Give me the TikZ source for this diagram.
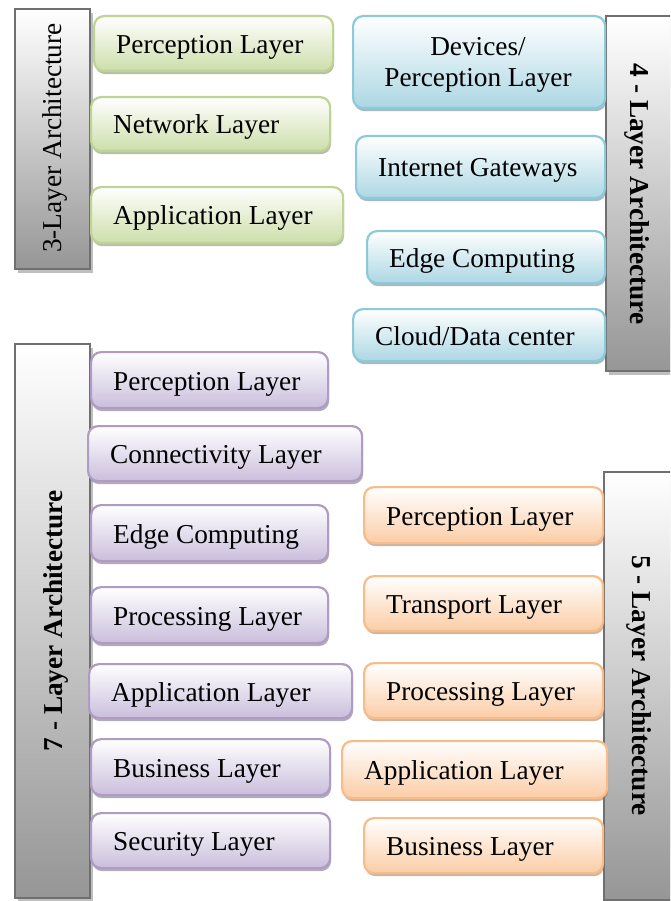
\documentclass[tikz,border=0pt]{standalone}
\usepackage{fontspec}
\setmainfont{Liberation Serif}
\usetikzlibrary{shadows}

% layer colours: outline and lower fill of each family of boxes
\definecolor{grnline}{RGB}{190,211,148}
\definecolor{grnfill}{RGB}{205,222,170}
\definecolor{aqualine}{RGB}{140,202,218}
\definecolor{aquafill}{RGB}{172,215,228}
\definecolor{orgline}{RGB}{249,188,136}
\definecolor{orgfill}{RGB}{251,205,166}
\definecolor{purline}{RGB}{174,156,196}
\definecolor{purfill}{RGB}{202,190,220}
\definecolor{barline}{RGB}{112,112,112}
\definecolor{barfill}{RGB}{150,150,150}

\tikzset{
  lbox/.style={draw=#1line, line width=2.2pt, rounded corners=10pt,
    top color=white, bottom color=#1fill, inner sep=0pt,
    drop shadow={shadow xshift=1pt, shadow yshift=-3pt,
      fill=#1line!65!black, opacity=0.55}},
  archbar/.style={draw=barline, line width=2pt, top color=white,
    bottom color=barfill, inner sep=0pt,
    drop shadow={shadow xshift=3pt, shadow yshift=-4pt,
      fill=black!25, opacity=1}},
  ltext/.style={font=\fontsize{27.3}{31}\selectfont, inner sep=0pt},
  bartext/.style={font=\fontsize{27.3}{31}\selectfont, inner sep=0pt, anchor=base},
}

% box: name, colour family, x1, y1, x2, y2 (outer, shadow included), text
\newcommand\layerbox[7]{%
  \node[lbox=#2, minimum width={#5-#3-1}, minimum height={#6-#4-3},
    anchor=north west] (#1) at (#3,#4) {};
  \node[ltext, anchor=base west] (#1t) at ({#3+23},{(#4+#6)/2+9.5}) {#7};
}
% grey side bar: name, x1, y1, x2, y2
\newcommand\sidebar[5]{%
  \node[archbar, minimum width={#4-#2}, minimum height={#5-#3},
    anchor=north west] (#1) at (#2,#3) {};
}

\begin{document}
\begin{tikzpicture}[x=1pt, y=-1pt]
  \useasboundingbox (0,0) rectangle (670,901);
  \clip (0,0) rectangle (670,901);

  % side bars
  \sidebar{bar3}{14}{8}{89}{268}
  \sidebar{bar4}{605}{15}{688}{370}
  \sidebar{bar7}{14}{343}{89}{897}
  \sidebar{bar5}{603}{471}{688}{899}

  \node[bartext, rotate=90] (bar3t) at (61,138) {3-Layer Architecture};
  \node[bartext, rotate=-90, font=\fontsize{27.3}{31}\selectfont\bfseries] (bar4t) at (630,194) {4 - Layer Architecture};
  \node[bartext, rotate=90, font=\fontsize{27.3}{31}\selectfont\bfseries] (bar7t) at (62,621) {7 - Layer Architecture};
  \node[bartext, rotate=-90, font=\fontsize{27.3}{31}\selectfont\bfseries] (bar5t) at (632,685.5) {5 - Layer Architecture};

  % 3-layer architecture
  \layerbox{g1}{grn}{93}{15}{333}{73}{Perception Layer}
  \layerbox{g2}{grn}{90}{96}{330}{153}{Network Layer}
  \layerbox{g3}{grn}{90}{186}{343}{245}{Application Layer}

  % 4-layer architecture
  \node[lbox=aqua, minimum width=252, minimum height=92, anchor=north west] (a1) at (352,15) {};
  \node[ltext, align=center] (a1t) at (478,64.5) {Devices/\\Perception Layer};
  \layerbox{a2}{aqua}{355}{135}{605}{200}{Internet Gateways}
  \layerbox{a3}{aqua}{366}{230}{605}{285}{Edge Computing}
  \layerbox{a4}{aqua}{352}{308}{605}{363}{Cloud/Data center}

  % 7-layer architecture
  \layerbox{p1}{pur}{90}{351}{328}{410}{Perception Layer}
  \layerbox{p2}{pur}{87}{425}{362}{483}{Connectivity Layer}
  \layerbox{p3}{pur}{90}{504}{328}{563}{Edge Computing}
  \layerbox{p4}{pur}{90}{586}{328}{645}{Processing Layer}
  \layerbox{p5}{pur}{88}{663}{352}{720}{Application Layer}
  \layerbox{p6}{pur}{90}{738}{330}{797}{Business Layer}
  \layerbox{p7}{pur}{90}{812}{330}{870}{Security Layer}

  % 5-layer architecture
  \layerbox{o1}{org}{363}{486}{603}{545}{Perception Layer}
  \layerbox{o2}{org}{363}{575}{603}{633}{Transport Layer}
  \layerbox{o3}{org}{363}{662}{603}{720}{Processing Layer}
  \layerbox{o4}{org}{341}{740}{607}{800}{Application Layer}
  \layerbox{o5}{org}{363}{817}{603}{875}{Business Layer}
\end{tikzpicture}
\end{document}
